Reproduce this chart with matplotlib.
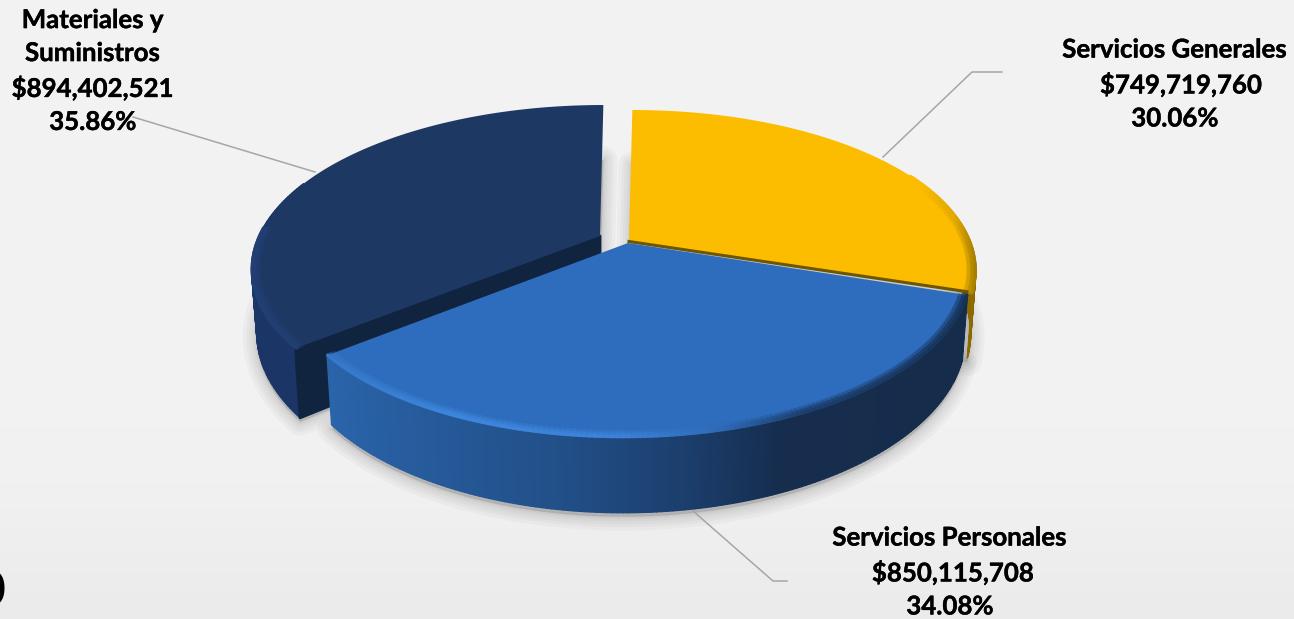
import numpy as np
import matplotlib
matplotlib.use('Agg')
from matplotlib import pyplot as plt
from matplotlib import patheffects as pe
from matplotlib.collections import PolyCollection, LineCollection
from matplotlib.colors import to_rgb

categories = ['Servicios Generales', 'Servicios Personales', 'Materiales y\nSuministros']
amounts = [749719760, 850115708, 894402521]
percents = ['30.06%', '34.08%', '35.86%']

W, H = 1294, 619
# perspectiva de la torta
B, K, DEPTH, SHEAR, NARROW = 156.4, 0.194, 61.0, 4.0, 0.015
radius_x = [341.0, 337.0, 341.0]
apex = [(629, 241), (628, 243), (600, 236)]
top_col = ['#fcbc00', '#2e6dbd', '#1e3864']
cut_col = '#10233f'
# gradiente del costado, por posicion x
side_x = [[640, 960, 975], [327, 430, 560, 680, 780, 970], [250, 300, 340]]
side_c = [['#a57c00', '#a57c00', '#8a6800'],
          ['#2a64aa', '#265a9a', '#224f88', '#1c3f6e', '#162d4e', '#152c4a'],
          ['#1a3566', '#1a3566', '#162c56']]
side_lim = [0.05, 0.35, 0.35]
bevel_x = [[640, 920, 955, 975], [327, 450, 620, 720, 800, 970], [250, 300, 340]]
bevel_c = [['#fcbc00', '#fcbc00', '#e0a800', '#a88000'],
           ['#3677c8', '#3d86dd', '#3c82d8', '#2f6ab6', '#1d3f6e', '#173358'],
           ['#223f75', '#223f75', '#20396c']]
bevel_lim = [0.45, 0.25, 0.05]


def project(i, c, t, r=1.0, z=0.0):
    x = r * np.sin(t)
    y = r * np.cos(t)
    w = 1 + K * y
    return c[0] + (radius_x[i] * x * (1 - NARROW * z) + SHEAR * y) / w, c[1] + (-B * y + z * DEPTH) / w


def grad(xs, px, cols):
    rgb = np.array([to_rgb(c) for c in cols])
    return np.column_stack([np.interp(xs, px, rgb[:, i]) for i in range(3)])


def outline(i, c, t, z=0.0):
    x, y = project(i, c, t, z=z)
    x0, y0 = project(i, c, 0.0, r=0.0, z=z)
    return np.vstack([[x0, y0], np.column_stack([x, y])])


fig = plt.figure(figsize=(W / 100, H / 100), dpi=100)
ax = fig.add_axes([0, 0, 1, 1])
ax.set_xlim(0, W)
ax.set_ylim(H, 0)
ax.axis('off')

# fondo
bg = np.interp(np.linspace(0, 1, 200), [0, 0.75, 1], [0.949, 0.945, 0.918])[:, None]
ax.imshow(bg, extent=(0, W, H, 0), cmap='gray', vmin=0, vmax=1, aspect='auto', zorder=0)

total = sum(amounts)
edges = np.cumsum([0] + amounts) / total * 2 * np.pi
slices = [np.linspace(edges[i], edges[i + 1], 160) for i in range(3)]

# sombra suave
for i in [2, 0, 1]:
    pts = outline(i, apex[i], slices[i], z=1.0) + [0, 4]
    for lw in [20, 15, 11, 7, 4, 2]:
        ax.add_patch(plt.Polygon(pts, closed=True, fc='#707070', ec='#707070', lw=lw,
                                 alpha=0.05, joinstyle='round', zorder=1))

for n, i in enumerate([2, 0, 1]):
    c, t = apex[i], slices[i]
    zo = 2 + n
    # costado, solo la parte de adelante
    xt, yt = project(i, c, t)
    xb, yb = project(i, c, t, z=1.0)
    quads = [[(xt[j], yt[j]), (xt[j + 1], yt[j + 1]), (xb[j + 1], yb[j + 1]), (xb[j], yb[j])]
             for j in range(len(t) - 1) if np.cos(t[j]) < side_lim[i]]
    mid = np.array([q[0][0] + q[1][0] for q in quads]) / 2
    cols = grad(mid, side_x[i], side_c[i])
    ax.add_collection(PolyCollection(quads, facecolors=cols, edgecolors=cols, linewidths=1.0, zorder=zo))
    # corte visible, solo en la rebanada separada
    if i == 2:
        px, py = project(i, c, t[0])
        qx, qy = project(i, c, t[0], z=1.0)
        ox, oy = project(i, c, 0.0, r=0.0)
        rx, ry = project(i, c, 0.0, r=0.0, z=1.0)
        ax.add_patch(plt.Polygon([(ox, oy), (px, py), (qx, qy), (rx, ry)], closed=True,
                                 fc=cut_col, ec=cut_col, lw=2, joinstyle='round', zorder=zo))
    # cara superior
    ax.add_patch(plt.Polygon(outline(i, c, t), closed=True, fc=top_col[i], ec='none', zorder=zo + 0.1))
    # bisel
    for r, lw, al in [(0.998, 2.5, 1.0), (0.99, 3.0, 0.55), (0.98, 3.0, 0.25)]:
        bx, by = project(i, c, t, r=r)
        segs = np.stack([np.column_stack([bx[:-1], by[:-1]]), np.column_stack([bx[1:], by[1:]])], axis=1)
        front = np.cos(t[:-1]) < bevel_lim[i]
        colors = np.column_stack([grad((bx[:-1] + bx[1:]) / 2, bevel_x[i], bevel_c[i]),
                                  np.full(len(segs), al)])
        ax.add_collection(LineCollection(segs[front], colors=colors[front], linewidths=lw,
                                         capstyle='round', zorder=zo + 0.2))

# linea oscura del amarillo contra el azul
lx, ly = project(0, apex[0], slices[0][-1], r=0.985)
ax.plot([apex[0][0], lx], [apex[0][1] + 0.5, ly - 0.5], color='#6e5600', lw=2.2, zorder=3.6)

# lineas guia
guides = [[(883, 157), (972, 72), (1002, 72)], [(693, 511), (773, 581), (787, 581)], [(133, 117), (315, 172)]]
for g in guides:
    gx, gy = zip(*g)
    ax.plot(gx, gy, color='#a6a6a6', lw=1.1, zorder=1.5)

# etiquetas
label_pos = [(1175, 84), (950, 572), (93, 71)]
indent = ['  ', ' ', '']
for i in range(3):
    s = f"{categories[i]}\n{indent[i]}${amounts[i]:,}\n{percents[i]}"
    ax.text(label_pos[i][0], label_pos[i][1], s, family='Lato', weight='bold', fontsize=18.6,
            color='black', ha='center', va='center', linespacing=1.45, zorder=6,
            path_effects=[pe.withStroke(linewidth=0.3, foreground='black')])

# resto de un texto cortado en el borde
ax.text(6, 592, '0', family='Lato', fontsize=36, color='black', ha='right', va='center', zorder=6)

fig.savefig('out.png', dpi=100)
